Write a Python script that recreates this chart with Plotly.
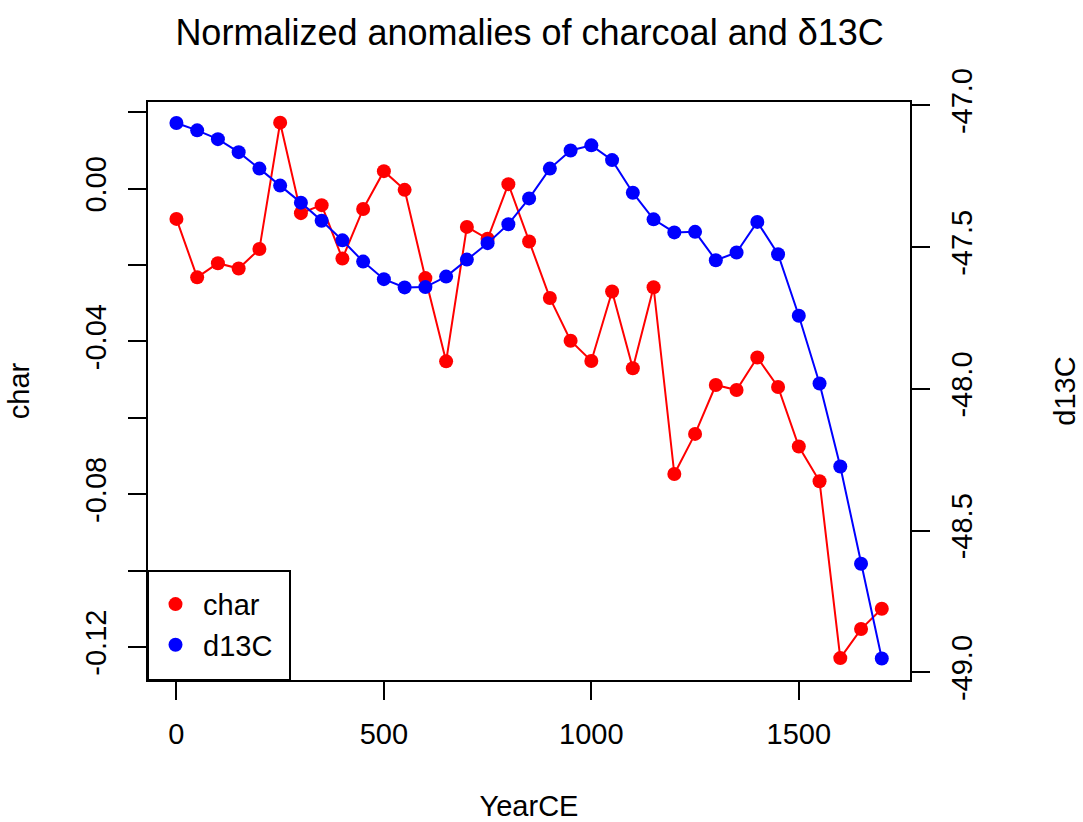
import plotly.graph_objects as go

years = [0, 50, 100, 150, 200, 250, 300, 350, 400, 450, 500, 550, 600, 650, 700, 750, 800, 850,
         900, 950, 1000, 1050, 1100, 1150, 1200, 1250, 1300, 1350, 1400, 1450, 1500, 1550, 1600, 1650, 1700]

char = [-0.0079, -0.0232, -0.0195, -0.0209, -0.0158, 0.0173, -0.0064, -0.0043, -0.0183, -0.0053,
        0.0046, -0.0003, -0.0234, -0.0452, -0.0100, -0.0131, 0.0012, -0.0138,
        -0.0286, -0.0398, -0.0451, -0.0269, -0.0470, -0.0258, -0.0747, -0.0642, -0.0514, -0.0527,
        -0.0442, -0.0519, -0.0675, -0.0766, -0.1229, -0.1153, -0.1100]

d13c = [-47.062, -47.088, -47.119, -47.165, -47.223, -47.283, -47.343, -47.407, -47.476, -47.551,
        -47.613, -47.642, -47.641, -47.604, -47.544, -47.486, -47.419, -47.328,
        -47.223, -47.159, -47.141, -47.193, -47.308, -47.402, -47.448, -47.446, -47.546, -47.519,
        -47.411, -47.525, -47.742, -47.981, -48.274, -48.617, -48.951]

x_ticks = [0, 500, 1000, 1500]
char_ticks = [-0.12, -0.10, -0.08, -0.06, -0.04, -0.02, 0.00, 0.02]
char_ticktext = ["-0.12", "", "-0.08", "", "-0.04", "", "0.00", ""]
d13c_ticks = [-49.0, -48.5, -48.0, -47.5, -47.0]
d13c_ticktext = ["-49.0", "-48.5", "-48.0", "-47.5", "-47.0"]

FONT = "Liberation Sans, Arial, sans-serif"
BASE = 29

fig = go.Figure()
for vals, name, color, ax, grp in [(char, "char", "#FF0000", "y", "a"),
                                   (d13c, "d13C", "#0000FF", "y2", "b")]:
    fig.add_trace(go.Scatter(x=years, y=vals, mode="lines", line=dict(color=color, width=2),
                             showlegend=False, yaxis=ax, hoverinfo="skip"))
    fig.add_trace(go.Scatter(x=years, y=vals, name=name, mode="markers",
                             marker=dict(color=color, size=14), legendgroup=grp, yaxis=ax))

axis_common = dict(showgrid=False, zeroline=False, showline=True, linecolor="black", linewidth=2,
                   ticks="outside", ticklen=18, tickwidth=2, tickcolor="black", automargin=False,
                   tickfont=dict(family=FONT, size=BASE, color="black"))

fig.update_layout(
    width=1083, height=822,
    paper_bgcolor="white", plot_bgcolor="white",
    margin=dict(l=148, r=173, t=102, b=142, autoexpand=False),
    font=dict(family=FONT, color="black"),
    title=dict(text="Normalized anomalies of charcoal and δ13C", x=0.489, xanchor="center",
               y=1 - 32 / 822, yanchor="middle", automargin=False,
               font=dict(size=36, family=FONT, color="black")),
    xaxis=dict(range=[-68.5, 1768], tickvals=x_ticks, mirror=True, ticklabelstandoff=9,
               title=dict(text="YearCE", font=dict(size=BASE, family=FONT), standoff=47),
               **axis_common),
    yaxis=dict(range=[-0.12864, 0.02271], tickvals=char_ticks, ticktext=char_ticktext, tickangle=-90,
               mirror=True, ticklabelstandoff=10,
               title=dict(text="char", font=dict(size=BASE, family=FONT), standoff=42),
               **axis_common),
    yaxis2=dict(range=[-49.027, -46.988], tickvals=d13c_ticks, ticktext=d13c_ticktext, tickangle=-90,
                overlaying="y", side="right", ticklabelstandoff=7,
                title=dict(text="d13C", font=dict(size=BASE, family=FONT), standoff=78),
                **axis_common),
    showlegend=True,
    legend=dict(x=0, y=0.016, xanchor="left", yanchor="bottom", bgcolor="rgba(0,0,0,0)",
                borderwidth=0, tracegroupgap=0, itemwidth=45,
                font=dict(size=BASE, family=FONT, color="black")),
    shapes=[dict(type="rect", xref="paper", yref="paper", x0=0, x1=142 / 762, y0=0, y1=109 / 578,
                 line=dict(color="black", width=2), fillcolor="white", layer="above")],
)

fig.write_html("out.html")
